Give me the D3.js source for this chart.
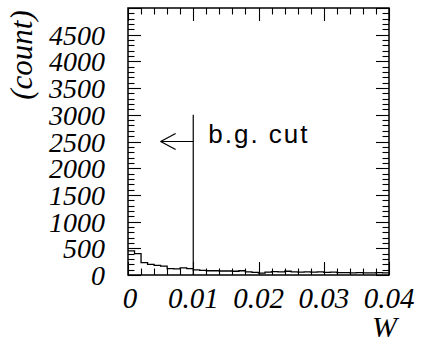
<!DOCTYPE html>
<html>
<head>
<meta charset="utf-8">
<script src="https://cdn.jsdelivr.net/npm/d3@7/dist/d3.min.js"></script>
<style>
  html, body { margin: 0; padding: 0; background: #fff; overflow: hidden; }
</style>
</head>
<body>
<svg id="w-hist" width="421" height="345"></svg>
<script>
// W distribution: 40 bins of width 0.001, with the background cut at W = 0.01
const binStart = 0;
const binWidth = 0.001;
const counts = [450, 400, 230, 200, 180, 165, 120, 115, 135, 120,
                95, 85, 80, 80, 75, 75, 70, 80, 60, 50,
                35, 55, 65, 60, 70, 60, 55, 60, 55, 60,
                50, 55, 45, 45, 40, 45, 40, 40, 45, 40];
const xTickValues = [0, 0.01, 0.02, 0.03, 0.04];
const xTickLabels = ["0", "0.01", "0.02", "0.03", "0.04"];
const yTickValues = [0, 500, 1000, 1500, 2000, 2500, 3000, 3500, 4000, 4500];
const xDomain = [0, 0.04];
const yDomain = [0, 5000];
const cutValue = 0.01;
const cutLineTop = 3000;
const arrowLevel = 2500;
const arrowTail = 0.005;
const cutLabel = "b.g. cut";
const xTitle = "W";
const yTitle = "(count)";

const frame = { left: 128, right: 389, top: 8, bottom: 275 };
const svg = d3.select("#w-hist");

const x = d3.scaleLinear().domain(xDomain).range([frame.left, frame.right]);
const y = d3.scaleLinear().domain(yDomain).range([frame.bottom, frame.top]);

function serifText(sel, size) {
  return sel.attr("font-family", "Liberation Serif")
            .style("font-family", "\"Liberation Serif\"")
            .style("font-style", "italic")
            .style("font-size", size + "px")
            .attr("fill", "#000");
}

// Inward ticks on all four sides, major every 5th
const majorLen = 13, minorLen = 6.5;
const ticks = [];
d3.range(0, 21).forEach(i => {
  const px = Math.round(x(i * 0.002)) + 0.5;
  const len = i % 5 === 0 ? majorLen : minorLen;
  ticks.push([px, frame.bottom, px, frame.bottom - len]);
  ticks.push([px, frame.top, px, frame.top + len]);
});
d3.range(0, 51).forEach(i => {
  const py = Math.round(y(i * 100)) + 0.5;
  const len = i % 5 === 0 ? majorLen : minorLen;
  ticks.push([frame.left, py, frame.left + len, py]);
  ticks.push([frame.right, py, frame.right - len, py]);
});
ticks.forEach(t => {
  svg.append("line")
    .attr("x1", t[0]).attr("y1", t[1]).attr("x2", t[2]).attr("y2", t[3])
    .attr("stroke", "black").attr("stroke-width", 1.1);
});

// Step outline of the histogram
const pts = [];
counts.forEach((c, i) => {
  const x0 = binStart + i * binWidth;
  pts.push([x(x0), y(c)]);
  pts.push([x(x0 + binWidth), y(c)]);
});
svg.append("path")
  .attr("d", d3.line()(pts))
  .attr("fill", "none")
  .attr("stroke", "black")
  .attr("stroke-width", 1.3);

// Frame
svg.append("rect")
  .attr("x", frame.left).attr("y", frame.top)
  .attr("width", frame.right - frame.left).attr("height", frame.bottom - frame.top)
  .attr("fill", "none").attr("stroke", "black").attr("stroke-width", 1.5);

// Tick labels
yTickValues.forEach(v => {
  serifText(svg.append("text"), 28)
    .attr("x", 105).attr("y", y(v) + 10)
    .attr("text-anchor", "end")
    .text(v);
});
xTickValues.forEach((v, i) => {
  serifText(svg.append("text"), 29)
    .attr("x", x(v) + (i === 0 ? 2 : 0)).attr("y", 308)
    .attr("text-anchor", "middle")
    .text(xTickLabels[i]);
});

// Axis titles
serifText(svg.append("text"), 30)
  .attr("x", 397).attr("y", 337).attr("text-anchor", "end")
  .text(xTitle);
serifText(svg.append("text"), 31)
  .attr("transform", "translate(32,55) rotate(-90)")
  .attr("text-anchor", "middle")
  .text(yTitle);

// Background cut: vertical line, arrow and label
const lines = [
  [x(cutValue), y(cutLineTop), x(cutValue), y(0)],
  [x(cutValue), y(arrowLevel), x(arrowTail), y(arrowLevel)],
  [x(arrowTail), y(arrowLevel), x(arrowTail) + 15, y(arrowLevel) - 8],
  [x(arrowTail), y(arrowLevel), x(arrowTail) + 15, y(arrowLevel) + 8]
];
lines.forEach(l => {
  svg.append("line")
    .attr("x1", l[0]).attr("y1", l[1]).attr("x2", l[2]).attr("y2", l[3])
    .attr("stroke", "black").attr("stroke-width", 1.2);
});

svg.append("text")
  .attr("x", x(cutValue) + 15).attr("y", y(arrowLevel) + 1)
  .attr("font-family", "Liberation Sans")
  .style("font-family", "\"Liberation Sans\"")
  .style("font-size", "26px").style("letter-spacing", "2px")
  .attr("fill", "black")
  .text(cutLabel);
</script>
</body>
</html>
